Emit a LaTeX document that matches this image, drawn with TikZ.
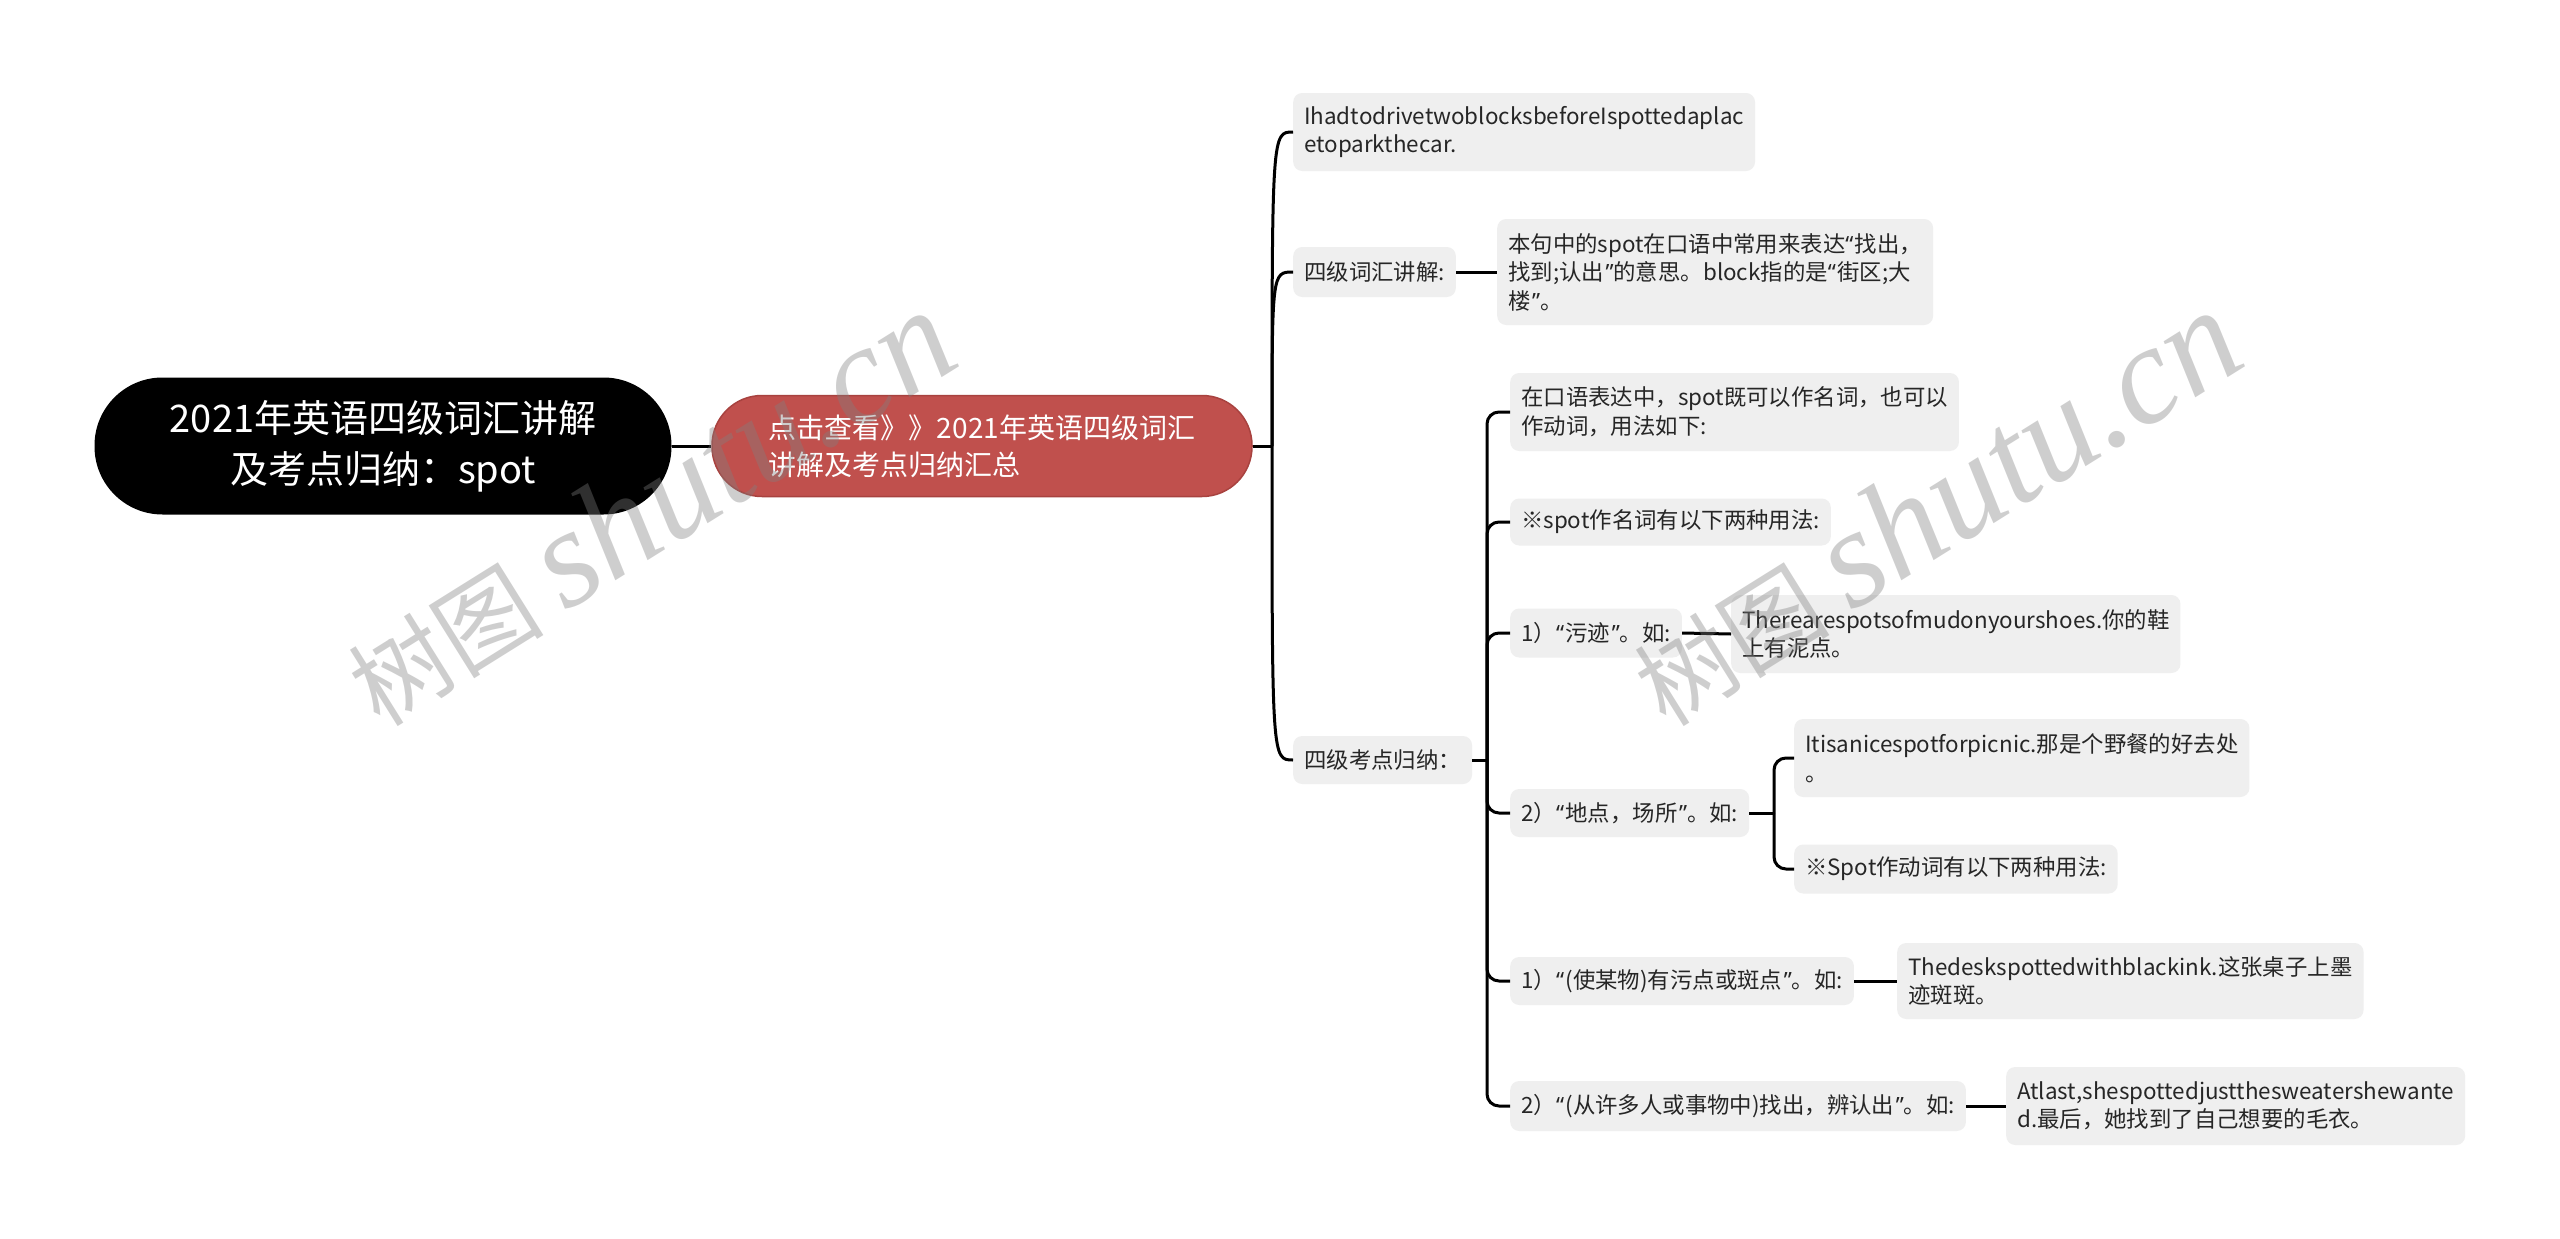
\documentclass[tikz,border=0pt]{standalone}
\usepackage{fontspec}
\newfontfamily\cjk{Noto Sans CJK SC}
\newfontfamily\latq{Noto Sans}
\newfontfamily\wmserif{Liberation Serif}
\newcommand\oq{{\latq “}\hspace{1.5pt}}
\newcommand\cq{\hspace{1.5pt}{\latq ”}}
\definecolor{boxgray}{HTML}{EFEFEF}
\definecolor{redfill}{HTML}{C0504D}
\definecolor{reddraw}{HTML}{A8423F}
\definecolor{txt}{HTML}{262626}
\begin{document}
\begin{tikzpicture}[x=1pt,y=-1pt,
  leaf/.style={fill=boxgray, rounded corners=9pt, inner xsep=11pt, inner ysep=0pt, anchor=west, align=left, text=txt, font=\cjk\fontsize{22.4}{28.5}\selectfont},
  conn/.style={line width=3pt, black},
  elbow/.style={line width=3pt, black, rounded corners=12pt},
  wmark/.style={rotate=32, text=gray, opacity=0.38, inner sep=0pt},
]
\useasboundingbox[fill=white] (0,0) rectangle (2560,1239);

% main nodes
\node[fill=black, rounded corners=68pt, minimum width=577pt, minimum height=137pt, text=white, align=center, inner sep=0pt,
  font=\cjk\fontsize{38}{51}\selectfont] (root) at (383,446) {2021年英语四级词汇讲解\\及考点归纳：spot};
\node[fill=redfill, draw=reddraw, line width=1.5pt, rounded corners=50pt, minimum width=540pt, minimum height=101pt, text=white, align=left, inner sep=0pt,
  font=\cjk\fontsize{28}{37}\selectfont] (red) at (982,446) {点击查看》》2021年英语四级词汇\\讲解及考点归纳汇总};

% level 2
\node[leaf, minimum height=78pt] (n1) at (1293,132) {IhadtodrivetwoblocksbeforeIspottedaplac\\etoparkthecar.};
\node[leaf, minimum height=50pt] (n2) at (1293,272) {四级词汇讲解:};
\node[leaf, minimum height=106pt] (n2a) at (1497,272) {本句中的spot在口语中常用来表达\oq 找出，\\找到;认出\cq 的意思。block指的是\oq 街区;大\\楼\cq 。};
\node[leaf, minimum height=48pt] (n3) at (1293,760) {四级考点归纳：};

% level 3
\node[leaf, minimum height=78pt] (a) at (1510,412) {在口语表达中，spot既可以作名词，也可以\\作动词，用法如下:};
\node[leaf, minimum height=47pt] (b) at (1510,522) {※spot作名词有以下两种用法:};
\node[leaf, minimum height=49pt] (c) at (1510,633) {1）\oq 污迹\cq 。如:};
\node[leaf, minimum height=78pt] (c1) at (1731,634) {Therearespotsofmudonyourshoes.你的鞋\\上有泥点。};
\node[leaf, minimum height=48pt] (d) at (1510,813) {2）\oq 地点，场所\cq 。如:};
\node[leaf, minimum height=78pt] (d1) at (1794,758) {Itisanicespotforpicnic.那是个野餐的好去处\\。};
\node[leaf, minimum height=49pt] (d2) at (1794,869) {※Spot作动词有以下两种用法:};
\node[leaf, minimum height=48pt] (e) at (1510,981) {1）\oq (使某物)有污点或斑点\cq 。如:};
\node[leaf, minimum height=76pt] (e1) at (1897,981) {Thedeskspottedwithblackink.这张桌子上墨\\迹斑斑。};
\node[leaf, minimum height=50pt] (f) at (1510,1106) {2）\oq (从许多人或事物中)找出，辨认出\cq 。如:};
\node[leaf, minimum height=78pt] (f1) at (2006,1106) {Atlast,shespottedjustthesweatershewante\\d.最后，她找到了自己想要的毛衣。};

% connectors
\coordinate (T) at (1272,446);
\coordinate (T3) at (1487,760);
\coordinate (T4) at (1774,813);
\draw[conn] (root.east) -- (red.west);
\draw[conn] (red.east) -- (T);
\draw[conn] (T) .. controls (T |- n1.west) .. (n1.west);
\draw[conn] (T) .. controls (T |- n2.west) .. (n2.west);
\draw[conn] (T) .. controls (T |- n3.west) .. (n3.west);
\draw[conn] (n2.east) -- (n2a.west);
\draw[conn] (n3.east) -- (T3);
\foreach \k in {a,b,c,d,e,f} \draw[elbow] (T3) |- (\k.west);
\draw[conn] (c.east) -- (c1.west);
\draw[conn] (d.east) -- (T4);
\draw[elbow] (T4) |- (d1.west);
\draw[elbow] (T4) |- (d2.west);
\draw[conn] (e.east) -- (e1.west);
\draw[conn] (f.east) -- (f1.west);

% watermarks
\node[wmark] (wm1) at (649,508) {\cjk\fontsize{98}{98}\selectfont 树图\hspace{22pt}{\wmserif\itshape\fontsize{140}{140}\selectfont shutu.cn}};
\node[wmark] (wm2) at (1935,508) {\cjk\fontsize{98}{98}\selectfont 树图\hspace{22pt}{\wmserif\itshape\fontsize{140}{140}\selectfont shutu.cn}};
\end{tikzpicture}
\end{document}
